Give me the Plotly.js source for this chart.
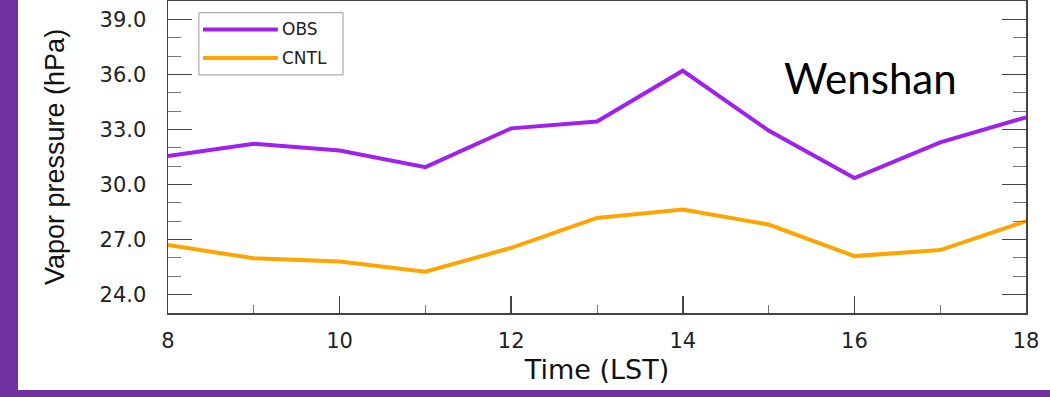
<!DOCTYPE html>
<html>
<head>
<meta charset="utf-8">
<script src="https://cdn.plot.ly/plotly-3.0.1.min.js"></script>
<style>
  html, body { margin: 0; padding: 0; width: 1050px; height: 397px; background: #7030A0; overflow: hidden; }
  #chart { position: absolute; left: 18px; top: 0px; width: 1032px; height: 390px; background: #ffffff; }
</style>
</head>
<body>
<div id="chart"></div>
<script>
// Data
const hours = [8, 9, 10, 11, 12, 13, 14, 15, 16, 17, 18];
const obs   = [31.55, 32.22, 31.85, 30.95, 33.06, 33.43, 36.2, 32.94, 30.35, 32.3, 33.66];
const cntl  = [26.7, 25.98, 25.8, 25.25, 26.55, 28.18, 28.64, 27.82, 26.1, 26.43, 28.0];
const seriesNames = ['OBS', 'CNTL'];
const seriesColors = ['#A020F0', '#FFA500'];
const yTickVals = [24, 27, 30, 33, 36, 39];
const xTickVals = [8, 10, 12, 14, 16, 18];
const stationLabel = 'Wenshan';
const xTitle = 'Time (LST)';
const yTitle = 'Vapor pressure (hPa)';

const axisColor = '#444444';
const font = 'DejaVu Sans, Liberation Sans, sans-serif';
const titleFont = 'Liberation Sans, Arial, sans-serif';

const traces = [obs, cntl].map((vals, i) => ({
  x: hours, y: vals, type: 'scatter', mode: 'lines', name: seriesNames[i],
  line: { color: seriesColors[i], width: 4 }, showlegend: false, hoverinfo: 'skip'
}));

// manual legend (paper coordinates)
const legX0 = 0.036, legX1 = 0.204, legY0 = 0.763, legY1 = 0.9625;
const legRows = [0.909, 0.817];
const shapes = [
  { type: 'rect', xref: 'paper', yref: 'paper', x0: legX0, x1: legX1, y0: legY0, y1: legY1,
    line: { color: '#9a9a9a', width: 1 }, fillcolor: 'rgba(0,0,0,0)' }
];
const annotations = [];
seriesNames.forEach((n, i) => {
  shapes.push({ type: 'line', xref: 'paper', yref: 'paper', x0: 0.0408, x1: 0.128, y0: legRows[i], y1: legRows[i],
    line: { color: seriesColors[i], width: 4 } });
  annotations.push({ xref: 'paper', yref: 'paper', x: 0.131, y: legRows[i], text: n, showarrow: false,
    xanchor: 'left', yanchor: 'middle', font: { family: font, size: 17, color: '#222' } });
});
annotations.push({ xref: 'paper', yref: 'paper', x: 0.819, y: 0.753, text: stationLabel, showarrow: false,
  xanchor: 'center', yanchor: 'middle', font: { family: 'Lato, Open Sans, sans-serif', size: 42, color: '#000' } });
// y-axis title
annotations.push({ xref: 'paper', yref: 'paper', x: -0.1317, y: 0.5, text: yTitle, showarrow: false,
  textangle: -90, xanchor: 'center', yanchor: 'middle', font: { family: titleFont, size: 27, color: '#111' } });

const layout = {
  width: 1032, height: 390,
  margin: { l: 150, r: 24, t: 1, b: 77 },
  paper_bgcolor: '#ffffff', plot_bgcolor: '#ffffff',
  showlegend: false,
  xaxis: {
    range: [8, 18], tickvals: xTickVals, ticktext: xTickVals.map(String),
    showgrid: false, zeroline: false, showline: true, linecolor: axisColor, linewidth: 1.5, mirror: true,
    ticks: 'inside', ticklen: 17, tickwidth: 1.5, tickcolor: axisColor,
    minor: { dtick: 1, tick0: 8, ticks: 'inside', ticklen: 8, tickwidth: 1, tickcolor: '#777', showgrid: false },
    tickfont: { family: font, size: 21, color: '#222' }, ticklabelstandoff: 8,
    title: { text: xTitle, font: { family: font, size: 27, color: '#111' }, standoff: 8 }
  },
  yaxis: {
    range: [23, 40], tickvals: yTickVals, ticktext: yTickVals.map(v => v.toFixed(1)),
    showgrid: false, zeroline: false, showline: true, linecolor: axisColor, linewidth: 1.5, mirror: 'ticks',
    ticks: 'inside', ticklen: 24, tickwidth: 1.5, tickcolor: axisColor,
    minor: { dtick: 1, tick0: 23, ticks: 'inside', ticklen: 13, tickwidth: 1, tickcolor: '#777', showgrid: false },
    tickfont: { family: font, size: 21, color: '#222' }, ticklabelstandoff: 16
  },
  shapes: shapes,
  annotations: annotations
};

Plotly.newPlot('chart', traces, layout, { displayModeBar: false, staticPlot: true });
</script>
</body>
</html>
